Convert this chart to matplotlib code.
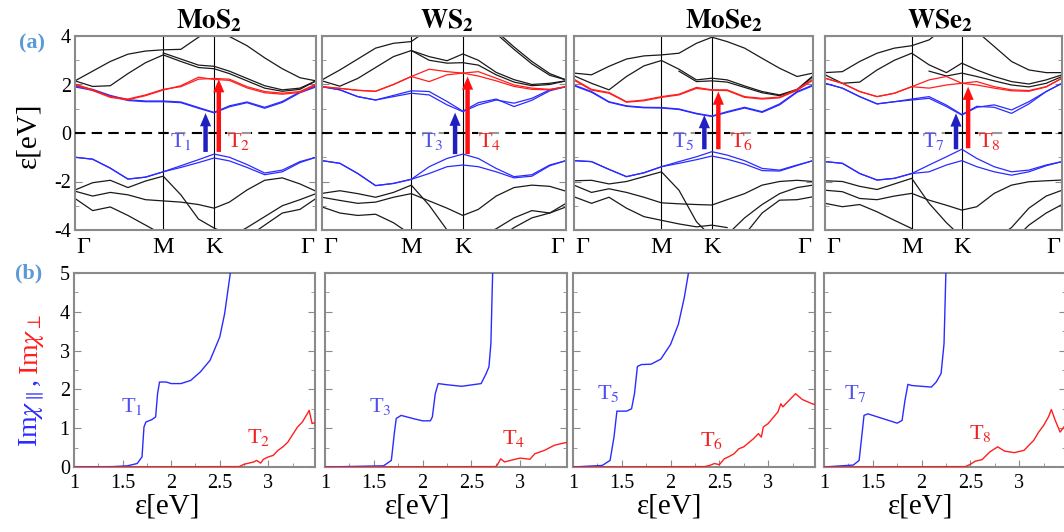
import numpy as np
import matplotlib
matplotlib.use("Agg")
import matplotlib.pyplot as plt
from matplotlib.ticker import MultipleLocator, FuncFormatter
from matplotlib.transforms import ScaledTranslation, blended_transform_factory

plt.rcParams['font.family'] = ['Liberation Serif', 'DejaVu Serif']
plt.rcParams['mathtext.fontset'] = 'stix'
plt.rcParams['axes.unicode_minus'] = False

N = np.nan

# ---------------- band structure data (k path: Gamma-M-K-Gamma) ----------------
K_GRID = [0.0, 0.2, 0.4, 0.6, 0.8, 1.0, 1.2, 1.4, 1.577, 1.75, 1.95, 2.15, 2.35, 2.55, 2.732]
K_TICKS = [0.0, 1.0, 1.577, 2.732]
K_LABELS = ['Γ', 'M', 'K', 'Γ']
TITLES = [r'$\mathbf{MoS_2}$', r'$\mathbf{WS_2}$', r'$\mathbf{MoSe_2}$', r'$\mathbf{WSe_2}$']

MOS2_CB_BLUE_A = [1.94, 1.80, 1.55, 1.37, 1.32, 1.32, 1.28, 1.05, 0.85, 1.12, 1.28, 1.06, 1.30, 1.70, 1.94]
MOS2_CB_BLUE_B = [1.90, 1.76, 1.52, 1.34, 1.29, 1.29, 1.25, 1.02, 0.83, 1.08, 1.25, 1.02, 1.26, 1.66, 1.90]
MOS2_CB_RED_A = [2.02, 1.78, 1.50, 1.40, 1.57, 1.80, 1.91, 2.22, 2.25, 2.22, 1.91, 1.71, 1.64, 1.71, 2.02]
MOS2_CB_RED_B = [1.98, 1.75, 1.47, 1.37, 1.54, 1.77, 1.95, 2.30, 2.21, 2.17, 1.86, 1.66, 1.60, 1.67, 1.98]
MOS2_VB_A = [-1.00, -1.08, -1.45, -1.90, -1.82, -1.60, -1.35, -1.10, -0.87, -1.00, -1.30, -1.65, -1.53, -1.18, -1.00]
MOS2_VB_B = [-1.00, -1.08, -1.45, -1.90, -1.82, -1.60, -1.42, -1.22, -1.03, -1.15, -1.42, -1.72, -1.60, -1.22, -1.00]
MOS2_BLACK = [
    [2.15, 2.55, 2.95, 3.25, 3.38, 3.43, 3.45, 3.95, 4.30, 3.98, 3.60, 3.10, 2.65, 2.28, 2.15],
    [2.15, 1.92, 1.95, 2.45, 2.90, 3.22, 2.95, 2.70, 2.65, 2.45, 2.15, 1.85, 1.72, 1.80, 2.15],
    [N, N, N, N, N, 3.30, 3.05, 2.80, 2.75, 2.55, 2.25, 1.95, 1.78, 1.85, 2.15],
    [-2.35, -2.05, -1.95, -2.25, -1.98, -1.78, -2.55, -3.55, -3.92, -4.20, N, N, N, N, N],
    [-2.40, -2.60, -2.45, -2.55, -2.75, -2.80, -2.85, -2.95, -3.10, -2.85, -2.35, -1.95, -1.85, -2.10, -2.40],
    [-2.70, -3.20, -3.05, -3.40, -3.80, -4.20, N, N, N, N, N, N, N, N, N],
    [N, N, N, N, N, N, N, N, N, -4.30, -3.90, -3.45, -3.00, -2.75, -2.50],
    [N, N, N, N, N, N, N, N, N, N, -4.30, -3.80, -3.30, -3.15, -2.70],
]

WS2_CB_BLUE_A = [1.91, 1.78, 1.50, 1.36, 1.50, 1.64, 1.57, 1.16, 0.88, 1.16, 1.36, 1.23, 1.43, 1.78, 1.91]
WS2_CB_BLUE_B = [1.91, 1.78, 1.50, 1.36, 1.55, 1.74, 1.71, 1.30, 0.90, 1.25, 1.40, 1.09, 1.35, 1.74, 1.91]
WS2_CB_RED_A = [1.91, 1.84, 1.76, 1.72, 2.00, 2.33, 2.63, 2.53, 2.47, 2.53, 2.26, 1.98, 1.85, 1.80, 1.91]
WS2_CB_RED_B = [1.91, 1.84, 1.76, 1.72, 2.00, 2.33, 2.12, 2.40, 2.47, 2.35, 2.15, 1.92, 1.80, 1.78, 1.91]
WS2_VB_A = [-1.14, -1.25, -1.67, -2.17, -2.08, -1.91, -1.39, -1.05, -0.87, -1.05, -1.46, -1.80, -1.72, -1.32, -1.14]
WS2_VB_B = [-1.14, -1.25, -1.67, -2.17, -2.08, -1.91, -1.67, -1.39, -1.32, -1.39, -1.60, -1.85, -1.78, -1.35, -1.14]
WS2_BLACK = [
    [2.19, 2.60, 3.05, 3.50, 3.70, 3.77, 4.30, N, N, N, N, N, N, N, N],
    [2.15, 1.93, 2.25, 2.70, 3.15, 3.40, 3.15, 2.98, 3.26, 3.00, 2.50, 2.20, 2.00, 2.05, 2.15],
    [N, N, N, N, N, 3.40, 3.00, 2.88, 2.90, 2.80, 2.40, 2.10, 1.95, 2.00, 2.15],
    [N, N, N, N, N, N, N, N, N, 4.60, 4.20, 3.55, 2.95, 2.45, 2.19],
    [N, N, N, N, N, N, N, N, N, 4.50, 4.10, 3.45, 2.85, 2.38, 2.19],
    [-2.49, -2.38, -2.50, -2.65, -2.45, -2.15, -2.98, -4.00, -4.50, N, N, N, N, N, N],
    [-2.65, -2.78, -2.90, -2.85, -2.65, -2.50, -2.80, -3.10, -3.40, -3.15, -2.60, -2.25, -2.15, -2.20, -2.40],
    [-3.05, -3.30, -3.40, -3.35, -3.70, -4.20, N, N, N, N, N, N, N, N, N],
    [N, N, N, N, N, N, N, N, N, -4.30, -3.95, -3.50, -3.20, -3.30, -2.90],
    [N, N, N, N, N, N, N, N, N, N, -4.40, -3.90, -3.50, -3.30, -3.05],
]

MOSE2_CB_BLUE_A = [1.98, 1.71, 1.29, 1.12, 1.06, 1.05, 0.99, 0.81, 0.70, 0.88, 1.06, 0.88, 1.20, 1.71, 1.98]
MOSE2_CB_BLUE_B = [1.95, 1.68, 1.27, 1.10, 1.04, 1.03, 0.97, 0.79, 0.68, 0.85, 1.03, 0.85, 1.16, 1.68, 1.95]
MOSE2_CB_RED_A = [2.22, 1.80, 1.67, 1.29, 1.36, 1.50, 1.60, 1.88, 1.78, 1.78, 1.50, 1.43, 1.48, 1.80, 2.22]
MOSE2_CB_RED_B = [2.18, 1.77, 1.64, 1.27, 1.33, 1.47, 1.57, 1.84, 1.76, 1.75, 1.47, 1.40, 1.45, 1.76, 2.18]
MOSE2_VB_A = [-1.14, -1.18, -1.50, -1.80, -1.64, -1.39, -1.18, -0.98, -0.77, -0.91, -1.14, -1.46, -1.53, -1.32, -1.14]
MOSE2_VB_B = [-1.14, -1.18, -1.50, -1.80, -1.64, -1.39, -1.25, -1.10, -0.95, -1.08, -1.28, -1.55, -1.57, -1.34, -1.14]
MOSE2_BLACK = [
    [2.47, 2.40, 2.75, 3.05, 3.18, 3.22, 3.29, 3.70, 3.95, 3.77, 3.50, 3.08, 2.67, 2.33, 2.47],
    [2.36, 2.05, 1.78, 2.33, 2.77, 2.99, 2.63, 2.19, 2.26, 2.19, 1.94, 1.71, 1.57, 1.80, 2.36],
    [N, N, N, N, N, N, 2.55, 2.12, 2.15, 2.10, 1.88, 1.66, 1.54, 1.76, 2.33],
    [-1.97, -1.95, -2.10, -2.00, -1.80, -1.60, -2.36, -3.66, -4.30, N, N, N, N, N, N],
    [-2.15, -2.45, -2.30, -2.45, -2.65, -2.88, -2.92, -2.95, -2.97, -2.75, -2.50, -2.15, -2.00, -1.95, -2.00],
    [-2.63, -2.90, -2.65, -3.10, -3.45, -3.60, -3.75, -3.87, -3.80, -3.90, N, N, N, N, N],
    [N, N, N, N, N, N, N, N, N, -4.20, -3.50, -2.95, -2.50, -2.25, -2.15],
    [N, N, N, N, N, N, N, N, N, N, -4.20, -3.30, -2.77, -2.75, -2.63],
]

WSE2_CB_BLUE_A = [2.05, 1.85, 1.50, 1.20, 1.29, 1.36, 1.43, 1.09, 0.74, 1.06, 1.16, 0.95, 1.29, 1.71, 2.05]
WSE2_CB_BLUE_B = [2.05, 1.85, 1.50, 1.20, 1.29, 1.40, 1.50, 1.15, 0.76, 1.10, 1.06, 0.81, 1.20, 1.71, 2.05]
WSE2_CB_RED_A = [2.26, 2.05, 1.71, 1.50, 1.64, 1.91, 2.19, 2.33, 2.05, 2.12, 1.91, 1.78, 1.75, 1.91, 2.26]
WSE2_CB_RED_B = [2.26, 2.05, 1.71, 1.50, 1.64, 1.91, 1.85, 1.98, 2.05, 1.98, 1.85, 1.74, 1.72, 1.90, 2.26]
WSE2_VB_A = [-1.18, -1.25, -1.67, -1.94, -1.87, -1.67, -1.32, -0.98, -0.67, -1.05, -1.39, -1.60, -1.53, -1.32, -1.18]
WSE2_VB_B = [-1.18, -1.25, -1.67, -1.94, -1.87, -1.67, -1.60, -1.32, -1.14, -1.39, -1.60, -1.74, -1.60, -1.35, -1.18]
WSE2_BLACK = [
    [2.49, 2.53, 2.95, 3.29, 3.50, 3.60, 3.84, 4.40, N, N, N, N, N, N, N],
    [2.40, 2.05, 2.10, 2.60, 3.00, 3.29, 2.81, 2.49, 2.88, 2.60, 2.33, 2.12, 2.02, 2.19, 2.40],
    [N, N, N, N, N, N, 2.55, 2.35, 2.47, 2.33, 2.15, 1.98, 1.90, 2.05, 2.33],
    [N, N, N, N, N, N, N, N, N, 4.19, 3.57, 2.95, 2.60, 2.49, 2.49],
    [-1.97, -2.00, -2.20, -2.33, -2.10, -1.87, -2.90, -3.70, -4.30, N, N, N, N, N, N],
    [-2.36, -2.42, -2.70, -2.75, -2.60, -2.49, -2.77, -2.98, -3.18, -3.04, -2.49, -2.15, -2.01, -1.97, -1.94],
    [-2.90, -3.04, -2.95, -3.25, -3.60, -3.94, N, N, N, N, N, N, N, N, N],
    [N, N, N, N, N, N, N, N, N, N, -4.40, -3.90, -3.10, -2.60, -2.36],
    [N, N, N, N, N, N, N, N, N, N, N, -4.50, -3.80, -3.30, -2.95],
]

# transition arrows (k position, tail energy, head energy)
ARROW_BLUE_K = [1.48, 1.49, 1.49, 1.51]
ARROW_RED_K = [1.63, 1.63, 1.65, 1.65]
ARROW_BLUE_E = [(-0.78, 0.82), (-0.87, 0.84), (-0.67, 0.74), (-0.67, 0.81)]
ARROW_RED_E = [(-0.78, 2.22), (-0.87, 2.33), (-0.67, 1.71), (-0.63, 1.91)]
T_BLUE_LABELS = [r'T$_1$', r'T$_3$', r'T$_5$', r'T$_7$']
T_RED_LABELS = [r'T$_2$', r'T$_4$', r'T$_6$', r'T$_8$']
T_BLUE_K = [1.20, 1.23, 1.25, 1.25]
T_RED_K = [1.86, 1.88, 1.92, 1.90]

# ---------------- susceptibility data ----------------
MOS2_PAR_E = [1.0, 1.4, 1.55, 1.65, 1.7, 1.72, 1.74, 1.8, 1.84, 1.86, 1.88, 1.95, 2.0, 2.1, 2.2, 2.3, 2.4, 2.5, 2.55, 2.62]
MOS2_PAR_V = [0.0, 0.01, 0.03, 0.09, 0.26, 1.03, 1.16, 1.22, 1.29, 1.89, 2.19, 2.19, 2.15, 2.15, 2.23, 2.45, 2.75, 3.35, 3.95, 5.2]
MOS2_PERP_E = [1.0, 2.7, 2.75, 2.85, 2.88, 2.92, 2.95, 3.0, 3.05, 3.1, 3.15, 3.2, 3.3, 3.35, 3.4, 3.42, 3.45, 3.49]
MOS2_PERP_V = [0.0, 0.01, 0.07, 0.13, 0.17, 0.10, 0.20, 0.26, 0.30, 0.43, 0.52, 0.64, 1.03, 1.16, 1.37, 1.46, 1.12, 1.15]

WS2_PAR_E = [1.0, 1.6, 1.68, 1.71, 1.73, 1.78, 1.9, 2.0, 2.08, 2.1, 2.13, 2.16, 2.25, 2.4, 2.6, 2.65, 2.68, 2.7, 2.72]
WS2_PAR_V = [0.0, 0.03, 0.17, 0.86, 1.25, 1.33, 1.25, 1.19, 1.19, 1.29, 1.89, 2.15, 2.12, 2.08, 2.15, 2.40, 2.58, 3.18, 5.2]
WS2_PERP_E = [1.0, 2.75, 2.77, 2.8, 2.84, 2.9, 3.0, 3.1, 3.15, 3.25, 3.35, 3.45, 3.52]
WS2_PERP_V = [0.0, 0.01, 0.07, 0.21, 0.13, 0.17, 0.23, 0.20, 0.34, 0.43, 0.56, 0.62, 0.65]

MOSE2_PAR_E = [1.0, 1.3, 1.38, 1.42, 1.45, 1.55, 1.6, 1.63, 1.66, 1.7, 1.8, 1.9, 2.0, 2.08, 2.14, 2.19]
MOSE2_PAR_V = [0.0, 0.04, 0.17, 0.77, 1.44, 1.44, 1.50, 1.89, 2.59, 2.64, 2.65, 2.78, 3.16, 3.68, 4.36, 5.1]
MOSE2_PERP_E = [1.0, 2.35, 2.4, 2.45, 2.5, 2.55, 2.6, 2.65, 2.7, 2.75, 2.85, 2.9, 2.93, 2.95, 3.0, 3.1, 3.13, 3.15, 3.2, 3.28, 3.35, 3.45, 3.53]
MOSE2_PERP_V = [0.0, 0.01, 0.04, 0.09, 0.06, 0.21, 0.27, 0.34, 0.47, 0.52, 0.73, 0.86, 0.77, 1.03, 1.12, 1.42, 1.63, 1.55, 1.68, 1.89, 1.74, 1.63, 1.58]

WSE2_PAR_E = [1.0, 1.3, 1.36, 1.39, 1.41, 1.45, 1.6, 1.75, 1.8, 1.83, 1.86, 1.9, 2.0, 2.1, 2.15, 2.2, 2.23, 2.25]
WSE2_PAR_V = [0.0, 0.05, 0.17, 0.86, 1.33, 1.37, 1.25, 1.13, 1.20, 1.72, 2.13, 2.10, 2.08, 2.06, 2.19, 2.41, 3.18, 5.1]
WSE2_PERP_E = [1.0, 2.45, 2.5, 2.55, 2.62, 2.7, 2.78, 2.85, 2.95, 3.05, 3.15, 3.2, 3.25, 3.3, 3.33, 3.37, 3.42, 3.47, 3.53]
WSE2_PERP_V = [0.0, 0.01, 0.07, 0.15, 0.19, 0.39, 0.52, 0.41, 0.37, 0.43, 0.69, 0.90, 1.07, 1.29, 1.48, 1.20, 0.90, 1.07, 1.20]

CHI_T_BLUE_POS = [(1.60, 1.55), (1.57, 1.55), (1.36, 1.89), (1.32, 1.89)]
CHI_T_RED_POS = [(2.90, 0.77), (2.93, 0.73), (2.42, 0.69), (2.60, 0.86)]
CHI_XMAX = 3.48

BANDS = [
    (MOS2_CB_BLUE_A, MOS2_CB_BLUE_B, MOS2_CB_RED_A, MOS2_CB_RED_B, MOS2_VB_A, MOS2_VB_B, MOS2_BLACK),
    (WS2_CB_BLUE_A, WS2_CB_BLUE_B, WS2_CB_RED_A, WS2_CB_RED_B, WS2_VB_A, WS2_VB_B, WS2_BLACK),
    (MOSE2_CB_BLUE_A, MOSE2_CB_BLUE_B, MOSE2_CB_RED_A, MOSE2_CB_RED_B, MOSE2_VB_A, MOSE2_VB_B, MOSE2_BLACK),
    (WSE2_CB_BLUE_A, WSE2_CB_BLUE_B, WSE2_CB_RED_A, WSE2_CB_RED_B, WSE2_VB_A, WSE2_VB_B, WSE2_BLACK),
]
CHI = [
    (MOS2_PAR_E, MOS2_PAR_V, MOS2_PERP_E, MOS2_PERP_V),
    (WS2_PAR_E, WS2_PAR_V, WS2_PERP_E, WS2_PERP_V),
    (MOSE2_PAR_E, MOSE2_PAR_V, MOSE2_PERP_E, MOSE2_PERP_V),
    (WSE2_PAR_E, WSE2_PAR_V, WSE2_PERP_E, WSE2_PERP_V),
]

# ---------------- figure ----------------
W, H = 1064, 532
fig = plt.figure(figsize=(W / 100, H / 100), dpi=100)

def add_ax(l, t, r, b):
    return fig.add_axes([l / W, 1 - b / H, (r - l) / W, (b - t) / H])

TOP_BOXES = [(75, 36, 316, 230), (322, 36, 566, 230), (574, 36, 813, 230), (825, 36, 1062, 230)]
BOT_BOXES = [(74, 273, 315, 467), (325, 273, 567, 467), (573, 273, 815, 467), (824, 273, 1066, 467)]
TITLE_X = [209, 447, 724, 940]
XLABEL_X = [168, 418, 670, 921]

SPINE = '#8a8a8a'
BLUE = '#2b2bff'
RED = '#ff1e1e'
BLACK = '#1a1a1a'
ARROW_BLUE = '#2020c0'
LBL_BLUE = '#4f4ff2'
LBL_RED = '#f02020'

def style_axes(ax):
    for s in ax.spines.values():
        s.set_color(SPINE)
        s.set_linewidth(1.5)

def px_shift(dx, dy):
    return ScaledTranslation(dx / 100.0, dy / 100.0, fig.dpi_scale_trans)

for i in range(4):
    cbA, cbB, rA, rB, vA, vB, blacks = BANDS[i]
    ax = add_ax(*TOP_BOXES[i])
    style_axes(ax)
    for b in blacks:
        ax.plot(K_GRID, b, color=BLACK, lw=0.9, zorder=2)
    for b in (cbA, cbB, vA, vB):
        ax.plot(K_GRID, b, color=BLUE, lw=0.9, zorder=2.2)
    for b in (rA, rB):
        ax.plot(K_GRID, b, color=RED, lw=0.9, zorder=2.3)
    ax.axvline(K_TICKS[1], color='black', lw=0.8, zorder=1.5)
    ax.axvline(K_TICKS[2], color='black', lw=0.8, zorder=1.5)
    ax.axhline(0, color='black', lw=1.5, ls=(0, (5, 3)), zorder=3)
    ax.set_xlim(K_TICKS[0], K_TICKS[-1])
    ax.set_ylim(-4, 4)
    ax.set_xticks([])
    # high-symmetry point labels
    bt = blended_transform_factory(ax.transData, ax.transAxes)
    for j, (kk, lab) in enumerate(zip(K_TICKS, K_LABELS)):
        if j == 0:
            ha, dx = 'left', 1
        elif j == len(K_TICKS) - 1:
            ha, dx = 'right', -2
        else:
            ha, dx = 'center', 0
        ax.text(kk, 0, lab, fontsize=17.5, ha=ha, va='top',
                transform=bt + px_shift(dx, -7), clip_on=False)
    ax.yaxis.set_major_locator(MultipleLocator(2))
    ax.yaxis.set_minor_locator(MultipleLocator(1))
    ax.tick_params(axis='y', which='both', direction='in', left=True, right=True,
                   color=SPINE, labelsize=14.5, pad=3)
    ax.tick_params(axis='y', which='major', length=5)
    ax.tick_params(axis='y', which='minor', length=3)
    if i > 0:
        ax.tick_params(axis='y', labelleft=False)
    ax.text(T_BLUE_K[i], -0.33, T_BLUE_LABELS[i], color=LBL_BLUE, fontsize=16,
            ha='center', va='center', zorder=4,
            bbox=dict(fc='white', ec='none', alpha=0.6, pad=0.3))
    ax.text(T_RED_K[i], -0.33, T_RED_LABELS[i], color=LBL_RED, fontsize=16,
            ha='center', va='center', zorder=4,
            bbox=dict(fc='white', ec='none', alpha=0.6, pad=0.3))
    astyle = "simple,head_length=0.95,head_width=0.8,tail_width=0.32"
    ax.annotate('', xy=(ARROW_BLUE_K[i], ARROW_BLUE_E[i][1]), xytext=(ARROW_BLUE_K[i], ARROW_BLUE_E[i][0]),
                arrowprops=dict(arrowstyle=astyle, color=ARROW_BLUE, lw=0, shrinkA=0, shrinkB=0,
                                mutation_scale=10), zorder=5)
    ax.annotate('', xy=(ARROW_RED_K[i], ARROW_RED_E[i][1]), xytext=(ARROW_RED_K[i], ARROW_RED_E[i][0]),
                arrowprops=dict(arrowstyle=astyle, color='#ff1010', lw=0, shrinkA=0, shrinkB=0,
                                mutation_scale=10), zorder=5)
    fig.text(TITLE_X[i] / W, 1 - 21 / H, TITLES[i], fontsize=19.5, ha='center', va='center')

fmt = FuncFormatter(lambda v, p: '%g' % v)
for i in range(4):
    pe, pv, qe, qv = CHI[i]
    ax = add_ax(*BOT_BOXES[i])
    style_axes(ax)
    ax.plot(pe, pv, color=BLUE, lw=1.0, zorder=3)
    ax.plot(qe, qv, color=RED, lw=1.0, zorder=3)
    ax.set_xlim(1, CHI_XMAX)
    ax.set_ylim(0, 5)
    ax.xaxis.set_major_locator(MultipleLocator(0.5))
    ax.xaxis.set_minor_locator(MultipleLocator(0.25))
    ax.yaxis.set_major_locator(MultipleLocator(1))
    ax.yaxis.set_minor_locator(MultipleLocator(0.5))
    ax.xaxis.set_major_formatter(fmt)
    ax.tick_params(which='both', direction='in', left=True, right=True, color=SPINE,
                   labelsize=14.5)
    ax.tick_params(which='major', length=5)
    ax.tick_params(which='minor', length=3)
    ax.tick_params(axis='x', pad=5)
    ax.tick_params(axis='y', pad=3)
    if i > 0:
        ax.tick_params(axis='y', labelleft=False)
    bx, by = CHI_T_BLUE_POS[i]
    rx, ry = CHI_T_RED_POS[i]
    ax.text(bx, by, T_BLUE_LABELS[i], color=LBL_BLUE, fontsize=16, ha='center', va='center')
    ax.text(rx, ry, T_RED_LABELS[i], color=LBL_RED, fontsize=16, ha='center', va='center')
    fig.text(XLABEL_X[i] / W, 1 - 507 / H, 'ε[eV]', fontsize=21, ha='center', va='center')

# axis titles and panel labels
fig.text(28 / W, 1 - 135 / H, 'ε[eV]', fontsize=21, rotation=90, ha='center', va='center')
fig.text(32 / W, 1 - 43 / H, '(a)', fontsize=16, color='#5b9bd5', fontweight='bold',
         ha='center', va='center')
fig.text(29 / W, 1 - 273 / H, '(b)', fontsize=16, color='#5b9bd5', fontweight='bold',
         ha='center', va='center')

t1 = fig.text(32 / W, 1 - 447 / H, r'Im$\chi_{\parallel}$,', fontsize=20, rotation=90,
              color=BLUE, ha='center', va='bottom')
fig.canvas.draw()
bb = t1.get_window_extent(fig.canvas.get_renderer())
fig.text(32 / W, (bb.y1 + 4) / H, r'Im$\chi_{\perp}$', fontsize=20, rotation=90,
         color=RED, ha='center', va='bottom')

fig.savefig('out.png', dpi=100)
